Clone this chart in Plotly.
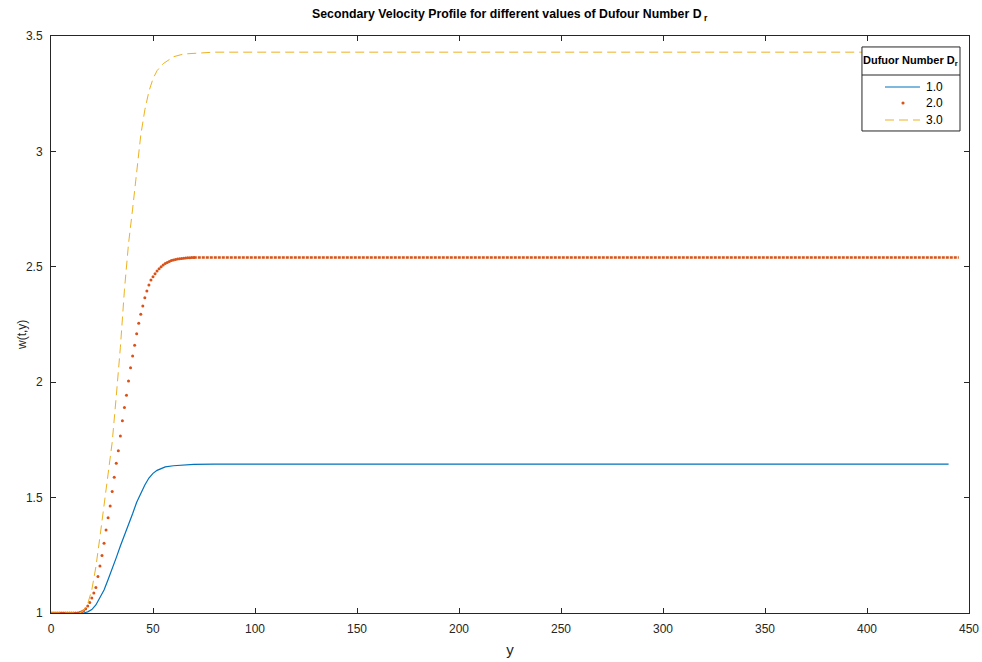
import plotly.graph_objects as go

# ---- data ----
blue_x = [0, 10, 16, 18, 20, 22, 24, 26, 28, 30, 32, 34, 36, 38, 40, 42, 44, 46, 48, 50,
          52, 54, 56, 60, 65, 70, 80, 440]
blue_y = [1.0, 1.0, 1.0, 1.005, 1.015, 1.035, 1.065, 1.10, 1.145, 1.19, 1.24, 1.29, 1.335,
          1.38, 1.43, 1.48, 1.52, 1.555, 1.585, 1.605, 1.618, 1.627, 1.633, 1.638, 1.642,
          1.644, 1.645, 1.645]

red_x = list(range(0, 71))
red_y = [1.0] * 14 + [1.002, 1.005, 1.01, 1.018, 1.03, 1.045, 1.065, 1.087,
         1.111, 1.158, 1.204, 1.249, 1.302, 1.360, 1.413, 1.464, 1.526, 1.588,
         1.649, 1.703, 1.767, 1.833, 1.890, 1.943, 2.005, 2.063, 2.113, 2.160,
         2.210, 2.255, 2.294, 2.330, 2.366, 2.395, 2.421, 2.443, 2.457,
         2.47, 2.482, 2.492, 2.50, 2.508, 2.514, 2.519, 2.523, 2.527, 2.53,
         2.532, 2.534, 2.535, 2.536, 2.537, 2.538, 2.539, 2.539, 2.54, 2.54]
red_plateau_x = [70, 445]
red_plateau_y = [2.54, 2.54]

yel_x = [0, 14, 16, 18, 20, 22, 24, 26, 28, 30, 32, 34, 36, 38, 40, 42, 44, 46, 48, 50,
         52, 55, 60, 65, 73, 80, 445]
yel_y = [1.0, 1.0, 1.01, 1.04, 1.1, 1.2, 1.33, 1.47, 1.6, 1.74, 1.94, 2.15, 2.40, 2.60,
         2.75, 2.92, 3.07, 3.18, 3.26, 3.315, 3.35, 3.38, 3.41, 3.422, 3.428, 3.43, 3.43]

x_ticks = [0, 50, 100, 150, 200, 250, 300, 350, 400, 450]
y_ticks = [1, 1.5, 2, 2.5, 3, 3.5]
y_tick_labels = ["1", "1.5", "2", "2.5", "3", "3.5"]
legend_labels = ["1.0", "2.0", "3.0"]

BLUE = "#0072BD"
RED = "#D95319"
YEL = "#EDB120"
FONT = "Liberation Sans, Arial, sans-serif"

fig = go.Figure()
fig.add_trace(go.Scatter(x=blue_x, y=blue_y, mode="lines", name=legend_labels[0],
                         line=dict(color=BLUE, width=1.2)))
fig.add_trace(go.Scatter(x=red_x, y=red_y, mode="markers", name=legend_labels[1],
                         marker=dict(color=RED, size=3, line=dict(width=0))))
fig.add_trace(go.Scatter(x=red_plateau_x, y=red_plateau_y, mode="lines",
                         line=dict(color=RED, width=2.6, dash="3px,1px")))
fig.add_trace(go.Scatter(x=yel_x, y=yel_y, mode="lines", name=legend_labels[2],
                         line=dict(color=YEL, width=1, dash="9px,5px")))

axis_common = dict(showline=True, linecolor="#262626", linewidth=1, mirror="ticks",
                   ticks="inside", ticklen=5, tickcolor="#262626", showgrid=False,
                   zeroline=False, automargin=False,
                   tickfont=dict(family=FONT, size=12, color="#262626"))

fig.update_xaxes(range=[0, 450], tickvals=x_ticks, ticklabelstandoff=5, **axis_common,
                 title=dict(text="y", font=dict(family=FONT, size=15, color="#262626"),
                            standoff=9))
fig.update_yaxes(range=[1, 3.5], tickvals=y_ticks, ticktext=y_tick_labels,
                 ticklabelstandoff=5, **axis_common)

# y-axis title
fig.add_annotation(text="w(t,y)", xref="paper", yref="paper", x=-0.0316, y=0.4818,
                   textangle=-90, xanchor="center", yanchor="middle", showarrow=False,
                   font=dict(family=FONT, size=12, color="#262626"))

# ---- legend box drawn in paper coordinates ----
LX0, LX1, LY0, LY1, LSEP = 0.8834, 0.9902, 0.8354, 0.981, 0.9324
fig.add_shape(type="rect", xref="paper", yref="paper", x0=LX0, x1=LX1, y0=LY0, y1=LY1,
              fillcolor="white", line=dict(color="#262626", width=1), layer="above")
fig.add_shape(type="line", xref="paper", yref="paper", x0=LX0, x1=LX1, y0=LSEP, y1=LSEP,
              line=dict(color="#262626", width=1), layer="above")
fig.add_annotation(text="<b>Dufuor Number D<sub>r</sub></b>", xref="paper", yref="paper",
                   x=(LX0 + LX1) / 2 - 0.001, y=(LY1 + LSEP) / 2, xanchor="center",
                   yanchor="middle", showarrow=False,
                   font=dict(family=FONT, size=11, color="black"))

SX0, SX1, SDOT, TX = 0.9085, 0.9466, 0.9281, 0.9510
ROWS = [0.9116, 0.8839, 0.8544]
fig.add_shape(type="line", xref="paper", yref="paper", x0=SX0, x1=SX1, y0=ROWS[0], y1=ROWS[0],
              line=dict(color=BLUE, width=1.2), layer="above")
fig.add_shape(type="circle", xref="paper", yref="paper", x0=SDOT - 0.0017, x1=SDOT + 0.0017,
              y0=ROWS[1] - 0.0027, y1=ROWS[1] + 0.0027,
              fillcolor=RED, line=dict(width=0), layer="above")
fig.add_shape(type="line", xref="paper", yref="paper", x0=SX0, x1=SX1, y0=ROWS[2], y1=ROWS[2],
              line=dict(color=YEL, width=1, dash="9px,5px"), layer="above")
for lab, yy in zip(legend_labels, ROWS):
    fig.add_annotation(text=lab, xref="paper", yref="paper", x=TX, y=yy,
                       xanchor="left", yanchor="middle", showarrow=False,
                       font=dict(family=FONT, size=12, color="black"))

fig.update_layout(
    width=982, height=662,
    margin=dict(l=51, r=13, t=36, b=49),
    paper_bgcolor="white", plot_bgcolor="white",
    title=dict(text="<b>Secondary Velocity Profile for different values of Dufour Number D<sub> r</sub></b>",
               x=0.519, xanchor="center", y=0.979, yanchor="middle",
               font=dict(family=FONT, size=12.3, color="black")),
    showlegend=False,
)

fig.write_html("out.html", config={"displayModeBar": False},
               post_script="document.body.style.margin='0';")
